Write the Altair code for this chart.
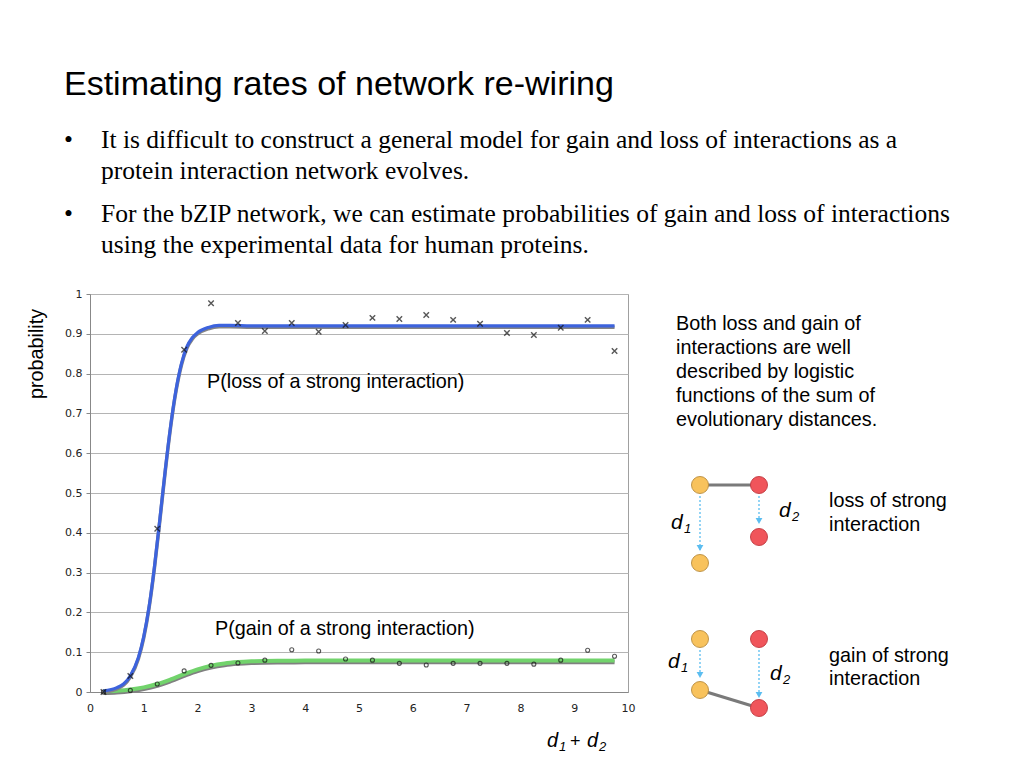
import altair as alt
import pandas as pd

# ---------------- data ----------------
pt_x = [0.25, 0.75, 1.25, 1.75, 2.25, 2.75, 3.25, 3.75, 4.25, 4.75,
        5.25, 5.75, 6.25, 6.75, 7.25, 7.75, 8.25, 8.75, 9.25, 9.75]
loss_obs = [0.0, 0.04, 0.41, 0.86, 0.977, 0.927, 0.907, 0.927, 0.905, 0.922,
            0.94, 0.937, 0.947, 0.935, 0.925, 0.902, 0.897, 0.915, 0.935, 0.857]
gain_obs = [0.0, 0.004, 0.02, 0.053, 0.067, 0.073, 0.08, 0.106, 0.103, 0.083,
            0.08, 0.072, 0.068, 0.072, 0.072, 0.072, 0.07, 0.08, 0.105, 0.09]

loss_fit_x = [0.25, 0.5, 0.75, 0.9, 1.0, 1.1, 1.2, 1.3, 1.4, 1.5, 1.6, 1.7,
              1.8, 1.9, 2.0, 2.2, 2.4, 2.6, 3.0, 4.0, 5.0, 6.0, 7.0, 8.0, 9.0, 9.75]
loss_fit_y = [0.003, 0.011, 0.041, 0.087, 0.14, 0.216, 0.317, 0.436, 0.559, 0.67,
              0.76, 0.825, 0.867, 0.89, 0.903, 0.916, 0.921, 0.921, 0.92, 0.92,
              0.92, 0.92, 0.92, 0.92, 0.92, 0.92]
gain_fit_x = [0.25, 0.5, 0.75, 1.0, 1.25, 1.5, 1.75, 2.0, 2.25, 2.5, 2.75, 3.0,
              3.5, 4.0, 5.0, 6.0, 7.0, 8.0, 9.0, 9.75]
gain_fit_y = [0.002, 0.0034, 0.0064, 0.0117, 0.02, 0.0316, 0.0448, 0.0569, 0.066,
              0.0718, 0.0751, 0.077, 0.0785, 0.0789, 0.079, 0.079, 0.079, 0.079,
              0.079, 0.079]
y_ticks = [0, 0.1, 0.2, 0.3, 0.4, 0.5, 0.6, 0.7, 0.8, 0.9, 1]
x_ticks = [0, 1, 2, 3, 4, 5, 6, 7, 8, 9, 10]

# diagram (page pixel units)
node_x = [700, 759, 700, 759, 700, 759, 700, 759]
node_y = [485, 485, 563, 537, 639, 639, 690, 708]
node_kind = ["a", "b", "a", "b", "a", "b", "a", "b"]
edge_x = [700, 700]
edge_y = [485, 690]
edge_x2 = [759, 759]
edge_y2 = [485, 708]
arrow_x = [700, 759, 700, 759]
arrow_y = [496, 496, 650, 650]
arrow_y2 = [550, 523, 677, 697]

sans_items = [
    (64, 95, "Estimating rates of network re-wiring", 34),
    (676, 330, "Both loss and gain of", 19.8),
    (676, 354, "interactions are well", 19.8),
    (676, 378, "described by logistic", 19.8),
    (676, 402, "functions of the sum of", 19.8),
    (676, 426, "evolutionary distances.", 19.8),
    (207, 388, "P(loss of a strong interaction)", 19.8),
    (215, 635, "P(gain of a strong interaction)", 19.8),
    (829, 507, "loss of strong", 19.8),
    (829, 531, "interaction", 19.8),
    (829, 662, "gain of strong", 19.8),
    (829, 685, "interaction", 19.8),
    (570, 747, "+", 18),
]
serif_items = [
    (64, 148, "\u2022", 25.5),
    (101, 148, "It is difficult to construct a general model for gain and loss of interactions as a", 25.5),
    (101, 179, "protein interaction network evolves.", 25.5),
    (64, 222, "\u2022", 25.5),
    (101, 222, "For the bZIP network, we can estimate probabilities of gain and loss of interactions", 25.5),
    (101, 253, "using the experimental data for human proteins.", 25.5),
]
italic_items = [
    (671, 529, "d", 21), (684, 533, "1", 13),
    (779, 517, "d", 21), (792, 521, "2", 13),
    (668, 668, "d", 21), (681, 672, "1", 13),
    (770, 680, "d", 21), (783, 684, "2", 13),
    (547, 747, "d", 20), (559, 751, "1", 13),
    (587, 747, "d", 20), (599, 751, "2", 13),
]
ylabel_items = [(43, 354, "probability", 19.8)]

# ---------------- frames ----------------
pts = pd.DataFrame({"x": pt_x, "loss": loss_obs, "gain": gain_obs})
lfit = pd.DataFrame({"x": loss_fit_x, "y": loss_fit_y})
gfit = pd.DataFrame({"x": gain_fit_x, "y": gain_fit_y})

def tdf(items):
    return pd.DataFrame(items, columns=["px", "py", "text", "size"])

nodes = pd.DataFrame({"px": node_x, "py": node_y, "kind": node_kind})
nodes["fill"] = nodes["kind"].map({"a": "#F8C25C", "b": "#F0555B"})
nodes["stroke"] = nodes["kind"].map({"a": "#B98C3E", "b": "#C0393F"})
edges = pd.DataFrame({"px": edge_x, "py": edge_y, "px2": edge_x2, "py2": edge_y2})
arrows = pd.DataFrame({"px": arrow_x, "py": arrow_y, "py2": arrow_y2})

# ---------------- main plot ----------------
W, H = 538, 398
xsc = alt.Scale(domain=[0, 10], nice=False, zero=False)
ysc = alt.Scale(domain=[0, 1], nice=False, zero=False)

x_axis = alt.Axis(values=x_ticks, tickCount=11, grid=False, ticks=False, labelPadding=10,
                  labelFontSize=11, labelFont="DejaVu Sans", labelColor="#222",
                  domainColor="#888", title=None, labelFlush=False, labelOverlap=False)
y_axis = alt.Axis(values=y_ticks, tickCount=11, format="~g", grid=True,
                  gridColor="#b4b4b4", tickSize=4, tickColor="#888", labelPadding=4,
                  labelFontSize=11, labelFont="DejaVu Sans", labelColor="#222",
                  domainColor="#888", title=None, labelOverlap=False, labelFlush=False)

X = alt.X("x:Q", scale=xsc, axis=x_axis)

def Y(f):
    return alt.Y(f, scale=ysc, axis=y_axis)

base_l = alt.Chart(lfit)
base_g = alt.Chart(gfit)

g_shadow = base_g.mark_line(color="#808080", strokeWidth=4.5, yOffset=1.5, interpolate="monotone").encode(
    x=X, y=Y("y:Q"))
g_line = base_g.mark_line(color="#72D36C", strokeWidth=4, interpolate="monotone").encode(
    x=X, y=Y("y:Q"))
l_shadow = base_l.mark_line(color="#858585", strokeWidth=3.5, yOffset=1.3, interpolate="monotone").encode(
    x=X, y=Y("y:Q"))
l_line = base_l.mark_line(color="#3D63DD", strokeWidth=3.2, interpolate="monotone").encode(
    x=X, y=Y("y:Q"))
loss_pts = alt.Chart(pts).mark_point(shape="M-1,-1L1,1M-1,1L1,-1", size=30, color="#111",
                                     strokeWidth=1.4, filled=False).encode(
    x=X, y=Y("loss:Q"))
gain_pts = alt.Chart(pts).mark_point(shape="circle", size=16, color="#111",
                                     strokeWidth=1.1, filled=False).encode(
    x=X, y=Y("gain:Q"))

main = alt.layer(g_shadow, g_line, l_shadow, l_line, loss_pts, gain_pts)

# ---------------- page annotations (page-pixel scale) ----------------
pxs = alt.Scale(domain=[0, 1024], range=[-90, 934], nice=False, zero=False)
pys = alt.Scale(domain=[0, 768], range=[-294, 474], nice=False, zero=False)
PX = alt.X("px:Q", scale=pxs, axis=None)
PY = alt.Y("py:Q", scale=pys, axis=None)

edge_l = alt.Chart(edges).mark_rule(color="#7a7a7a", strokeWidth=3).encode(
    x=PX, y=PY, x2="px2:Q", y2="py2:Q")
arrow_l = alt.Chart(arrows).mark_rule(color="#5BBDF0", strokeWidth=1.3, strokeDash=[2, 2]).encode(
    x=PX, y=PY, y2="py2:Q")
head_l = alt.Chart(arrows).mark_point(shape="triangle-down", size=45, filled=True,
                                      color="#5BBDF0", opacity=1, yOffset=-2).encode(
    x=PX, y=alt.Y("py2:Q", scale=pys, axis=None))
node_l = alt.Chart(nodes).mark_circle(size=290, opacity=1, strokeWidth=0.9).encode(
    x=PX, y=PY, fill=alt.Fill("fill:N", scale=None), stroke=alt.Stroke("stroke:N", scale=None))

def text_layer(items, font, style="normal", angle=0, align="left"):
    kw = dict(font=font, align=align, baseline="alphabetic", color="#000", fontStyle=style)
    if angle:
        kw["angle"] = angle
    return alt.Chart(tdf(items)).mark_text(**kw).encode(
        x=PX, y=PY, text="text:N", size=alt.Size("size:Q", scale=None))

sans_l = text_layer(sans_items, "Liberation Sans")
serif_l = text_layer(serif_items, "Liberation Serif")
ital_l = text_layer(italic_items, "Liberation Sans", style="italic")
ylab_l = text_layer(ylabel_items, "Liberation Sans", angle=270, align="center")

annot = alt.layer(edge_l, arrow_l, head_l, node_l, sans_l, serif_l, ital_l, ylab_l)

chart = alt.layer(main, annot).resolve_scale(x="independent", y="independent").properties(
    width=W, height=H,
    autosize=alt.AutoSizeParams(type="none"),
    padding={"left": 82, "top": 286, "right": 380, "bottom": 72},
    background="white",
).configure_view(stroke="#a0a0a0", strokeWidth=1)

chart.save("out.html", embed_options={"renderer": "svg", "actions": False})
